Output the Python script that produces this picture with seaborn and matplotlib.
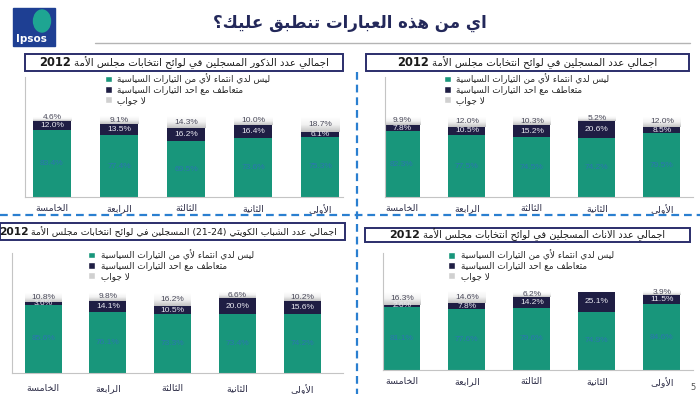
import re
import numpy as np
import matplotlib
matplotlib.use("Agg")
import matplotlib.pyplot as plt
from matplotlib.patches import Rectangle, Ellipse, Patch
from matplotlib.colors import LinearSegmentedColormap
import seaborn as sns

# ---------------- data ----------------
CATEGORIES = ["الخامسة", "الرابعة", "الثالثة", "الثانية", "الأولى"]
SERIES = ["ليس لدي انتماء لأي من التيارات السياسية",
          "متعاطف مع احد التيارات السياسية",
          "لا جواب"]

MAIN_TITLE = "اي من هذه العبارات تنطبق عليك؟"
YEAR = "2012"
TITLE_ALL = "اجمالي عدد المسجلين في لوائح انتخابات مجلس الأمة"
TITLE_MALE = "اجمالي عدد الذكور المسجلين في لوائح انتخابات مجلس الأمة"
TITLE_YOUTH = "اجمالي عدد الشباب الكويتي (21-24) المسجلين في لوائح انتخابات مجلس الأمة"
TITLE_FEMALE = "اجمالي عدد الاناث المسجلين في لوائح انتخابات مجلس الأمة"

MALE_NONE = [83.4, 77.4, 69.5, 73.6, 75.3]
MALE_SYMP = [12.0, 13.5, 16.2, 16.4, 6.1]
MALE_NA = [4.6, 9.1, 14.3, 10.0, 18.7]

ALL_NONE = [82.3, 77.5, 74.5, 74.2, 79.5]
ALL_SYMP = [7.8, 10.5, 15.2, 20.6, 8.5]
ALL_NA = [9.9, 12.0, 10.3, 5.2, 12.0]

YOUTH_NONE = [85.6, 76.1, 73.3, 73.4, 74.2]
YOUTH_SYMP = [3.6, 14.1, 10.5, 20.0, 15.6]
YOUTH_NA = [10.8, 9.8, 16.2, 6.6, 10.2]

FEMALE_NONE = [81.1, 77.6, 79.6, 74.9, 84.6]
FEMALE_SYMP = [2.6, 7.8, 14.2, 25.1, 11.5]
FEMALE_NA = [16.3, 14.6, 6.2, 0.0, 3.9]

# ---------------- Arabic shaping (presentation forms + visual order) ----------------
_RJ = set("آأؤإاةدذرزوى")
_LETTERS = "ءآأؤإئابةتثجحخدذرزسشصضطظعغفقكلمنهوىي"
FORMS = {}
_code = 0xFE80
for _ch in _LETTERS:
    _n = 1 if _ch == "ء" else (2 if _ch in _RJ else 4)
    FORMS[_ch] = [chr(_code + k) for k in range(_n)]
    _code += _n
LAMALEF = {"آ": (0xFEF5, 0xFEF6), "أ": (0xFEF7, 0xFEF8),
           "إ": (0xFEF9, 0xFEFA), "ا": (0xFEFB, 0xFEFC)}


def _joins_next(c):
    return c in FORMS and len(FORMS[c]) == 4


def _shape(s):
    ch = list(s)
    n = len(ch)
    out = []
    i = 0
    while i < n:
        c = ch[i]
        if c not in FORMS:
            out.append(c)
            i += 1
            continue
        link_prev = i > 0 and _joins_next(ch[i - 1])
        if c == "ل" and i + 1 < n and ch[i + 1] in LAMALEF:
            iso, fin = LAMALEF[ch[i + 1]]
            out.append(chr(fin if link_prev else iso))
            i += 2
            continue
        f = FORMS[c]
        if len(f) == 1:
            out.append(f[0])
            i += 1
            continue
        link_next = _joins_next(c) and i + 1 < n and ch[i + 1] in FORMS
        if link_prev and link_next:
            g = f[3]
        elif link_prev:
            g = f[1]
        elif link_next:
            g = f[2]
        else:
            g = f[0]
        out.append(g)
        i += 1
    return "".join(out)


def ar(s):
    t = _shape(s)[::-1]
    t = re.sub(r"[0-9A-Za-z.%\-]+", lambda m: m.group(0)[::-1], t)
    return t.translate(str.maketrans("()", ")("))


# ---------------- style ----------------
sns.set_style("white")
plt.rcParams["font.family"] = ["DejaVu Sans"]

TEAL = "#18967b"
NAVY = "#1f1e44"
GREEN_LBL = "#2c76b0"
BORDER = "#2b2e6b"
DASH = "#2a7fd0"

W, H = 700, 394
fig = plt.figure(figsize=(7.0, 3.94), dpi=100)


def px_rect(x0, y0, x1, y1):
    return [x0 / W, 1 - y1 / H, (x1 - x0) / W, (y1 - y0) / H]


grey_cmap = LinearSegmentedColormap.from_list("g", ["#c2c2c2", "#f2f2f2", "#ffffff"])
grad = np.linspace(0, 1, 64)[:, None]


def draw_panel(rect, xlim, leg_x, none, symp, na, pad=5):
    ax = fig.add_axes(px_rect(*rect))
    mid = [a + b for a, b in zip(none, symp)]
    tot = [a + b + c for a, b, c in zip(none, symp, na)]
    w = 0.57
    sns.barplot(x=CATEGORIES, y=tot, order=CATEGORIES, color="#dddddd",
                width=w, linewidth=0, saturation=1, ax=ax)
    grey_patches = list(ax.patches)
    sns.barplot(x=CATEGORIES, y=mid, order=CATEGORIES, color=NAVY,
                width=w, linewidth=0, saturation=1, ax=ax)
    sns.barplot(x=CATEGORIES, y=none, order=CATEGORIES, color=TEAL,
                width=w, linewidth=0, saturation=1, ax=ax)
    for i, p in enumerate(grey_patches):
        p.set_facecolor("none")
        if na[i] > 0:
            x0 = p.get_x()
            ax.imshow(grad, cmap=grey_cmap, origin="lower", aspect="auto",
                      extent=(x0, x0 + p.get_width(), mid[i], tot[i]), zorder=0.5)
    for i in range(len(CATEGORIES)):
        ax.text(i, none[i] / 2, f"{none[i]:.1f}%", ha="center", va="center",
                color=GREEN_LBL, fontsize=6, family="Liberation Sans", zorder=5)
        ax.text(i, none[i] + symp[i] / 2, f"{symp[i]:.1f}%", ha="center", va="center",
                color="#e8e8f0", fontsize=6, family="Liberation Sans", zorder=5)
        if na[i] > 0:
            ax.text(i, mid[i] + max(na[i] / 2, 3.4), f"{na[i]:.1f}%", ha="center",
                    va="center", color="#4a4a5a", fontsize=6,
                    family="Liberation Sans", zorder=5)
    ax.set_xlim(*xlim)
    ax.set_ylim(0, 150)
    ax.set_yticks([])
    ax.set_xlabel("")
    ax.set_ylabel("")
    ax.set_xticks(range(len(CATEGORIES)))
    ax.set_xticklabels([ar(c) for c in CATEGORIES], fontsize=6.8, color="#2e2e48")
    ax.tick_params(axis="x", length=0, pad=pad)
    for s in ["top", "right"]:
        ax.spines[s].set_visible(False)
    for s in ["left", "bottom"]:
        ax.spines[s].set_color("#c4c4c4")
        ax.spines[s].set_linewidth(0.8)
    handles = [Patch(facecolor=TEAL), Patch(facecolor=NAVY), Patch(facecolor="#d0d0d0")]
    ax.legend(handles, [ar(s) for s in SERIES], loc="upper left",
              bbox_to_anchor=(leg_x, 1.03), frameon=False, fontsize=6.4,
              handlelength=0.8, handleheight=0.8, handletextpad=0.6,
              labelspacing=0.15, borderaxespad=0, borderpad=0)
    return ax


draw_panel((25, 77, 343, 197), (-0.40, 4.34), 0.25, MALE_NONE, MALE_SYMP, MALE_NA)
draw_panel((385, 77, 693, 197), (-0.26, 4.48), 0.19, ALL_NONE, ALL_SYMP, ALL_NA)
draw_panel((12, 253, 343, 373), (-0.48, 4.63), 0.23, YOUTH_NONE, YOUTH_SYMP, YOUTH_NA, pad=8)
draw_panel((383, 253, 693, 370), (-0.29, 4.48), 0.21, FEMALE_NONE, FEMALE_SYMP, FEMALE_NA)

# ---------------- overlay (pixel coordinates) ----------------
ov = fig.add_axes([0, 0, 1, 1], facecolor="none")
ov.set_xlim(0, W)
ov.set_ylim(H, 0)
ov.axis("off")

# logo
ov.add_patch(Rectangle((13, 8), 42, 38, color="#1e3f93", zorder=2))
blob = Ellipse((42, 21), 17, 22, color="#1ea592", zorder=3)
ov.add_patch(blob)
blob.set_clip_path(Rectangle((13, 8), 42, 38, transform=ov.transData))
ov.text(16, 39, "Ipsos", color="white", fontsize=7.5, fontweight="bold",
        ha="left", va="center", zorder=4)

ov.text(350, 23, ar(MAIN_TITLE), ha="center", va="center", fontsize=12,
        fontweight="bold", color="#23285a")
ov.plot([95, 690], [43, 43], color="#b4b4b4", lw=1)

# dashed separators
ov.plot([0, W], [215, 215], color=DASH, lw=1.6, ls=(0, (3.5, 2.2)))
ov.plot([357, 357], [72, H], color=DASH, lw=1.6, ls=(0, (3.5, 2.2)))

renderer = fig.canvas.get_renderer()


def title_box(x0, y0, x1, y1, text, right_anchor=None, size=7.3):
    ov.add_patch(Rectangle((x0, y0), x1 - x0, y1 - y0, facecolor="white",
                           edgecolor=BORDER, lw=1.4, zorder=2))
    yc = (y0 + y1) / 2
    t1 = ov.text(0, yc, ar(text), ha="left", va="center", fontsize=size,
                 color="#1a1a1a", zorder=3)
    t2 = ov.text(0, yc, YEAR, ha="left", va="center", fontsize=size + 1,
                 fontweight="bold", color="#1a1a1a", zorder=3)
    w1 = t1.get_window_extent(renderer).width
    w2 = t2.get_window_extent(renderer).width
    gap = 3
    total = w1 + w2 + gap
    start = (x0 + x1) / 2 - total / 2 if right_anchor is None else right_anchor - total
    t2.set_x(start)
    t1.set_x(start + w2 + gap)


title_box(25, 54, 343, 71, TITLE_MALE)
title_box(366, 54, 689, 71, TITLE_ALL)
title_box(0, 223, 345, 240, TITLE_YOUTH, right_anchor=337, size=6.7)
title_box(365, 228, 690, 242, TITLE_FEMALE, size=7.0)

ov.text(693, 388, "5", fontsize=6, color="#555555", ha="center", va="center")

fig.savefig("out.png", dpi=100)
